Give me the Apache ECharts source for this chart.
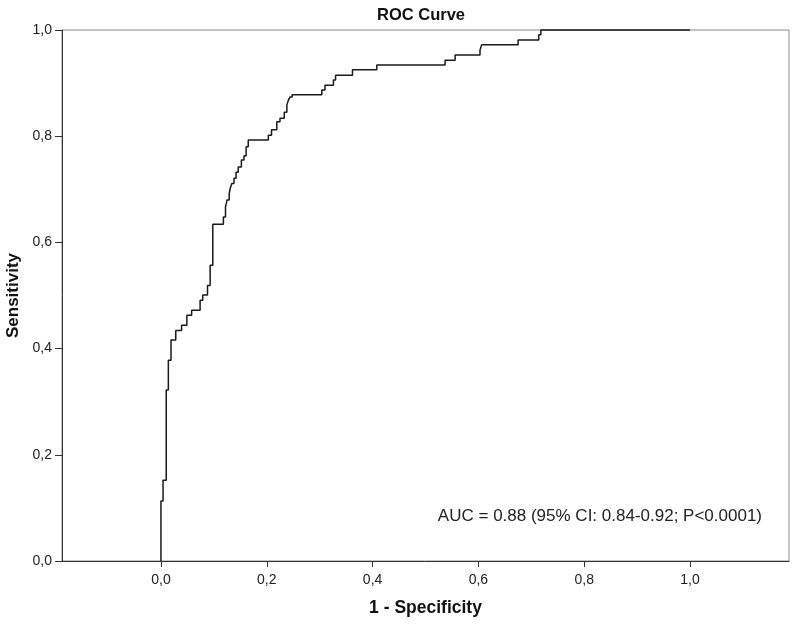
<!DOCTYPE html>
<html>
<head>
<meta charset="utf-8">
<script src="https://cdn.jsdelivr.net/npm/echarts@6/dist/echarts.min.js"></script>
<style>html,body{margin:0;padding:0;background:#fff}#c{width:797px;height:625px}</style>
</head>
<body>
<div id="c"></div>
<script>
// ROC operating points
const fpr = [0, 0, 0.004, 0.010, 0.014, 0.019, 0.028, 0.039, 0.049, 0.058, 0.074, 0.079, 0.088, 0.093, 0.098,
  0.118, 0.122, 0.125, 0.129, 0.131, 0.134, 0.138, 0.142, 0.146, 0.152, 0.157, 0.161, 0.165,
  0.203, 0.209, 0.219, 0.225, 0.233, 0.238, 0.241, 0.244, 0.248,
  0.304, 0.310, 0.326, 0.330, 0.362, 0.408, 0.537, 0.556, 0.603, 0.606, 0.675, 0.714, 0.718, 1.0];
const tpr = [0, 0.113, 0.152, 0.322, 0.378, 0.416, 0.434, 0.444, 0.463, 0.472, 0.491, 0.501, 0.519, 0.557, 0.634,
  0.648, 0.667, 0.680, 0.692, 0.702, 0.711, 0.721, 0.732, 0.742, 0.755, 0.763, 0.780, 0.793,
  0.802, 0.812, 0.827, 0.834, 0.845, 0.859, 0.868, 0.874, 0.878,
  0.887, 0.896, 0.906, 0.915, 0.925, 0.934, 0.943, 0.953, 0.962, 0.972, 0.981, 0.991, 1.0, 1.0];
const xTicks = [0, 0.2, 0.4, 0.6, 0.8, 1.0];
const yTicks = [0, 0.2, 0.4, 0.6, 0.8, 1.0];
const titleText = 'ROC Curve';
const xName = '1 - Specificity';
const yName = 'Sensitivity';
const aucText = 'AUC = 0.88 (95% CI: 0.84-0.92; P<0.0001)';

const FONT = 'Arial, "Liberation Sans", sans-serif';
const fmt = v => Number(v).toFixed(1).replace('.', ',');
const chart = echarts.init(document.getElementById('c'), null, {renderer: 'canvas'});
chart.setOption({
  animation: false,
  backgroundColor: '#fff',
  title: {
    text: titleText, left: 416, top: 2, textAlign: 'center',
    textStyle: {fontFamily: FONT, fontSize: 16.5, fontWeight: 'bold', color: '#111'}
  },
  grid: {left: 62, right: 8, top: 30, bottom: 64, show: true, borderColor: '#888', borderWidth: 1,
    containLabel: false, outerBoundsMode: 'none'},
  xAxis: {
    type: 'value', min: -0.187, max: 1.187,
    name: xName, nameLocation: 'middle', nameGap: 38,
    nameTextStyle: {fontFamily: FONT, fontSize: 17.5, fontWeight: 'bold', color: '#111'},
    axisLine: {show: true, onZero: false, lineStyle: {color: '#333', width: 1}},
    axisTick: {show: true, inside: false, length: 6, customValues: xTicks, lineStyle: {color: '#333'}},
    axisLabel: {customValues: xTicks, formatter: fmt, margin: 12, fontFamily: FONT, fontSize: 14, color: '#222'},
    splitLine: {show: false}
  },
  yAxis: {
    type: 'value', min: 0, max: 1, interval: 0.2,
    name: yName, nameLocation: 'middle', nameGap: 40, nameRotate: 90,
    nameTextStyle: {fontFamily: FONT, fontSize: 17, fontWeight: 'bold', color: '#111'},
    axisLine: {show: true, onZero: false, lineStyle: {color: '#333', width: 1}},
    axisTick: {show: true, inside: false, length: 7, lineStyle: {color: '#333'}},
    axisLabel: {formatter: fmt, margin: 10, fontFamily: FONT, fontSize: 14, color: '#222'},
    splitLine: {show: false}
  },
  graphic: [{
    type: 'text', right: 35, top: 508,
    style: {text: aucText, font: '17px ' + FONT, fill: '#222'}
  }],
  series: [{
    type: 'line', step: 'end', symbol: 'none',
    data: fpr.map((x, i) => [x, tpr[i]]),
    lineStyle: {color: '#1a1a1a', width: 1.5},
    clip: false
  }]
});
</script>
</body>
</html>
